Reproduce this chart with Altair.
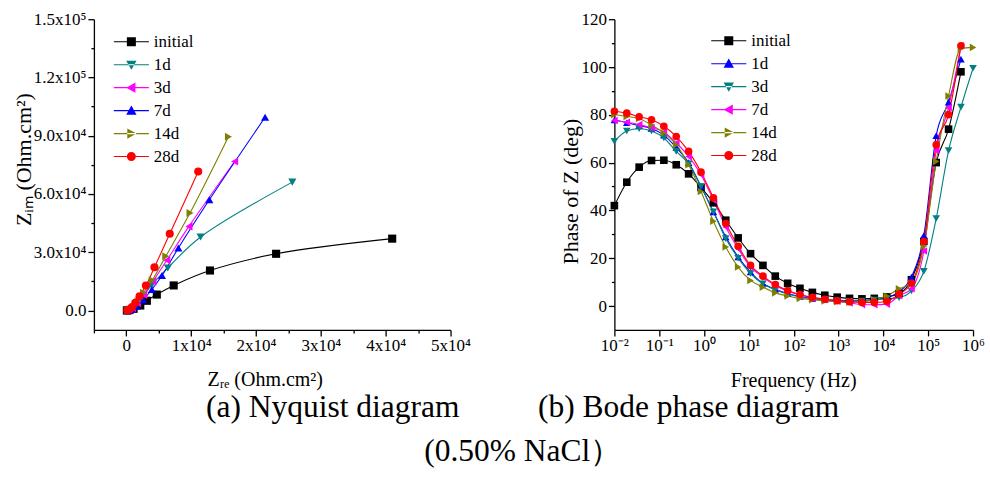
import altair as alt
import pandas as pd

# ---------------- Nyquist data ----------------
NYQ_SERIES = ["initial", "1d", "3d", "7d", "14d", "28d"]
NYQ_COLORS = ["#000000", "#008080", "#FF00FF", "#0000FF", "#808000", "#FF0000"]
NYQ_SHAPES = ["square", "triangle-down", "triangle-left", "triangle-up", "triangle-right", "circle"]

nyq_initial_re = [41000, 23100, 12900, 7300, 4700, 3170, 2150, 1120, 500, 200, 80]
nyq_initial_im = [37000, 29200, 20600, 12900, 8200, 5000, 2570, 870, 250, 80, 20]
nyq_1d_re = [25600, 11450, 6400, 3900, 2500, 1600, 900, 400, 150]
nyq_1d_im = [66100, 37850, 21900, 13000, 7000, 3000, 900, 200, 50]
nyq_3d_re = [16700, 9660, 6240, 4100, 2700, 1700, 950, 400, 150]
nyq_3d_im = [76700, 43300, 25850, 15000, 8000, 3800, 1200, 300, 50]
nyq_7d_re = [21400, 12800, 8030, 5500, 3940, 2600, 1600, 850, 350, 120]
nyq_7d_im = [99500, 57000, 32200, 18000, 10800, 5500, 2200, 600, 100, 20]
nyq_14d_re = [15750, 9820, 6080, 4000, 2660, 1800, 1100, 550, 200]
nyq_14d_im = [89500, 50200, 27900, 15600, 9100, 4700, 1800, 500, 100]
nyq_28d_re = [11090, 6700, 4340, 3020, 2040, 1380, 850, 450, 150]
nyq_28d_im = [71550, 39500, 22250, 12840, 7350, 3950, 1600, 500, 100]

# ---------------- Bode data ----------------
BODE_SERIES = ["initial", "1d", "3d", "7d", "14d", "28d"]
BODE_COLORS = ["#000000", "#0000FF", "#008080", "#FF00FF", "#808000", "#FF0000"]
BODE_SHAPES = ["square", "triangle-up", "triangle-down", "triangle-left", "triangle-right", "circle"]

freq = [0.01, 0.0189, 0.0357, 0.0674, 0.127, 0.240, 0.453, 0.856, 1.62, 3.05,
        5.77, 10.9, 20.6, 38.8, 73.3, 138, 261, 494, 932, 1760,
        3330, 6280, 11900, 22400, 42300, 79900, 151000, 285000, 538000, 1000000]

ph_initial = [42, 51.8, 58.1, 60.9, 61, 59.1, 55.3, 49.6, 43.2, 35.9, 28.5, 21.9, 17, 12.5, 9.5,
              7.4, 5.7, 4.5, 3.7, 3.2, 3.0, 3.2, 3.8, 5.2, 11, 27, 60, 74, 98]
ph_1d = [77.8, 76.7, 75.5, 74.3, 71.5, 66.3, 60, 50, 39.4, 28.9, 20.5, 14.2, 9.4, 7, 5.2,
         4, 3.2, 2.7, 2.4, 2.2, 2.3, 2.8, 3.5, 6, 12.1, 29.5, 71.3, 85.3, 103.3]
ph_3d = [68.9, 73.2, 74.2, 73.2, 70.3, 64.7, 59.5, 50, 39.4, 28.2, 20, 13.6, 9.3, 6.8, 5,
         3.8, 3, 2.5, 2.2, 2.0, 2.1, 2.5, 3.0, 3.5, 6.3, 14.5, 36.6, 65, 83.2, 99.5]
ph_7d = [77.6, 76.9, 75.9, 74.6, 72.8, 68.2, 62.6, 54.9, 44.3, 33.1, 24, 16.3, 12.1, 8.6, 6.3,
         4.6, 3.5, 2.7, 2.0, 1.3, 0.6, 0.5, 0.8, 4.3, 7.2, 23, 65, 83, 108.9]
ph_14d = [80.1, 79.3, 78.5, 75.7, 72.4, 67.5, 59.1, 47.9, 35.5, 24.7, 16.3, 10.7, 7.9, 5.5, 4.2,
          3.2, 2.6, 2.1, 1.8, 1.6, 1.8, 2.6, 4.2, 7.2, 9.5, 25, 60.5, 87.9, 107.8, 108.2]
ph_28d = [81.5, 80.7, 79.2, 77.9, 75.2, 70.9, 64.7, 56, 45.3, 34.5, 25, 17, 12.5, 9, 6.5,
          4.8, 3.6, 2.8, 2.2, 1.8, 1.5, 1.5, 2.0, 5, 9.5, 27, 67.5, 80.1, 108.9]

NB = "\u00a0"
CAPTION_1 = "(a) Nyquist diagram" + NB * 10 + "(b) Bode phase diagram"
CAPTION_2 = "(0.50% NaCl\uff09" + NB * 3

FONT = "Liberation Serif"

# legend symbol paths: a thin bar (the line) with the marker in the middle
LINE = "M-3.9,-0.12H3.9V0.12H-3.9Z"
PATHS = {
    "square": "M-1,-1H1V1H-1Z",
    "circle": "M1,0A1,1,0,1,1,-1,0A1,1,0,1,1,1,0Z",
    "triangle-up": "M0,-1.15L1.15,0.9H-1.15Z",
    "triangle-down": "M0,1.15L1.15,-0.9H-1.15Z",
    "triangle-left": "M-1.15,0L0.9,-1.15V1.15Z",
    "triangle-right": "M1.15,0L-0.9,-1.15V1.15Z",
}

# ---------- build tables ----------
nyq_rows = []
for s, xs, ys in zip(NYQ_SERIES,
                     [nyq_initial_re, nyq_1d_re, nyq_3d_re, nyq_7d_re, nyq_14d_re, nyq_28d_re],
                     [nyq_initial_im, nyq_1d_im, nyq_3d_im, nyq_7d_im, nyq_14d_im, nyq_28d_im]):
    for i, (a, b) in enumerate(zip(xs, ys)):
        nyq_rows.append({"series": s, "zre": a, "zim": b, "idx": i})
nyq_df = pd.DataFrame(nyq_rows)

bode_rows = []
for s, ph in zip(BODE_SERIES, [ph_initial, ph_1d, ph_3d, ph_7d, ph_14d, ph_28d]):
    for i, p in enumerate(ph):
        bode_rows.append({"series": s, "freq": freq[i], "phase": p, "idx": i})
bode_df = pd.DataFrame(bode_rows)


def make_panel(df, xfield, yfield, series, colors, shapes, xscale, yscale, xaxis, yaxis,
               legx, legy, interp, msize):
    x = alt.X(f"{xfield}:Q", scale=xscale, axis=xaxis)
    y = alt.Y(f"{yfield}:Q", scale=yscale, axis=yaxis)
    base = alt.Chart(df)
    layers = [base.mark_line(interpolate=interp, strokeWidth=1.1).encode(
        x=x, y=y,
        stroke=alt.Stroke("series:N", scale=alt.Scale(domain=series, range=colors), legend=None),
        order=alt.Order("idx:Q"),
    )]
    for s, col, shp in zip(series, colors, shapes):
        layers.append(
            base.transform_filter(alt.datum.series == s)
            .mark_point(filled=True, opacity=1, size=msize, shape=shp, color=col)
            .encode(x=x, y=y)
        )
    leg = alt.Legend(
        title=None, orient="none", legendX=legx, legendY=legy,
        labelFont=FONT, labelFontSize=17, labelColor="black",
        symbolSize=81, symbolStrokeWidth=0, symbolOpacity=1,
        labelOffset=14, rowPadding=5, padding=0,
    )
    leg_paths = [LINE + PATHS[s] for s in shapes]
    layers.append(
        base.transform_filter("false").mark_point(filled=True, opacity=1).encode(
            x=x, y=y,
            color=alt.Color("series:N", scale=alt.Scale(domain=series, range=colors), legend=leg),
            shape=alt.Shape("series:N", scale=alt.Scale(domain=series, range=leg_paths), legend=leg),
        )
    )
    return alt.layer(*layers).resolve_scale(color="independent", shape="independent")


# ---------- Nyquist panel ----------
nyq_x_axis = alt.Axis(
    values=list(range(-5000, 50001, 5000)),
    labelExpr="datum.value == 0 ? '0' : (datum.value % 10000 == 0 ? format(datum.value / 10000, 'd') + 'x10\u2074' : '')",
    tickSize={"condition": {"test": "datum.value % 10000 != 0", "value": 3}, "value": 6},
    title="Z\u1d63\u2091 (Ohm.cm\u00b2)", titleX=171, titleY=50, titleAlign="center",
    titleBaseline="middle", titleFontSize=20, labelFlush=False, labelOverlap=False,
    labelFont=FONT, titleFont=FONT,
)
nyq_y_axis = alt.Axis(
    values=list(range(0, 150001, 15000)),
    labelExpr="datum.value == 0 ? '0.0' : (datum.value % 30000 != 0 ? '' : (datum.value < 100000 ? format(datum.value / 10000, '.1f') + 'x10\u2074' : format(datum.value / 100000, '.1f') + 'x10\u2075'))",
    tickSize={"condition": {"test": "datum.value % 30000 != 0", "value": 3}, "value": 6},
    title="Z\u1d62\u2098 (Ohm.cm\u00b2)", titleX=-70, titleY=140, titleAlign="center",
    titleBaseline="middle", titleAngle=-90, titleFontSize=22, labelFlush=False, labelOverlap=False,
    labelFont=FONT, titleFont=FONT,
)
nyq = make_panel(
    nyq_df, "zre", "zim", NYQ_SERIES, NYQ_COLORS, NYQ_SHAPES,
    alt.Scale(domain=[-5000, 50000], nice=False, zero=False),
    alt.Scale(domain=[-10000, 150000], nice=False, zero=False),
    nyq_x_axis, nyq_y_axis, 29, 14, "catmull-rom", 66,
).properties(width=357, height=311)

# ---------- Bode panel ----------
bode_x_axis = alt.Axis(
    values=[0.01, 0.1, 1, 10, 100, 1000, 10000, 100000, 1000000],
    labelExpr="['10\u207b\u00b2','10\u207b\u00b9','10\u2070','10\u00b9','10\u00b2','10\u00b3','10\u2074','10\u2075','10\u2076'][round(log(datum.value) / LN10) + 2]",
    tickSize=6,
    title="Frequency (Hz)", titleX=179, titleY=51, titleAlign="center",
    titleBaseline="middle", titleFontSize=20, labelFlush=False, labelOverlap=False,
    labelFont=FONT, titleFont=FONT,
)
bode_y_axis = alt.Axis(
    values=list(range(0, 121, 10)),
    labelExpr="datum.value % 20 == 0 ? datum.label : ''",
    tickSize={"condition": {"test": "datum.value % 20 != 0", "value": 3}, "value": 6},
    title="Phase of Z (deg)", titleX=-44, titleY=172, titleAlign="center",
    titleBaseline="middle", titleAngle=-90, titleFontSize=22, labelFlush=False, labelOverlap=False,
    labelFont=FONT, titleFont=FONT,
)
bode = make_panel(
    bode_df, "freq", "phase", BODE_SERIES, BODE_COLORS, BODE_SHAPES,
    alt.Scale(type="log", domain=[0.01, 1000000], nice=False),
    alt.Scale(domain=[-10, 120], nice=False, zero=False),
    bode_x_axis, bode_y_axis, 106, 13, "monotone", 58,
).properties(width=359, height=311)

chart = alt.hconcat(nyq, bode, spacing=89).resolve_scale(
    color="independent", shape="independent", stroke="independent"
).properties(
    padding={"left": 13, "top": 10, "right": 5, "bottom": 5},
    title=alt.TitleParams(
        text=[CAPTION_1, CAPTION_2], orient="bottom", anchor="middle",
        font=FONT, fontSize=31.5, fontWeight="normal", color="black",
        lineHeight=44, offset=1, dx=24,
    ),
).configure(font=FONT).configure_view(stroke=None).configure_axis(
    grid=False, domainColor="black", domainWidth=1.3, tickColor="black", tickWidth=1.3,
    labelFont=FONT, labelFontSize=17, labelColor="black", labelPadding=2,
    titleFont=FONT, titleFontWeight="normal", titleColor="black",
).configure_legend(labelFont=FONT)

chart.save("out.html", embed_options={"renderer": "svg", "actions": False})
